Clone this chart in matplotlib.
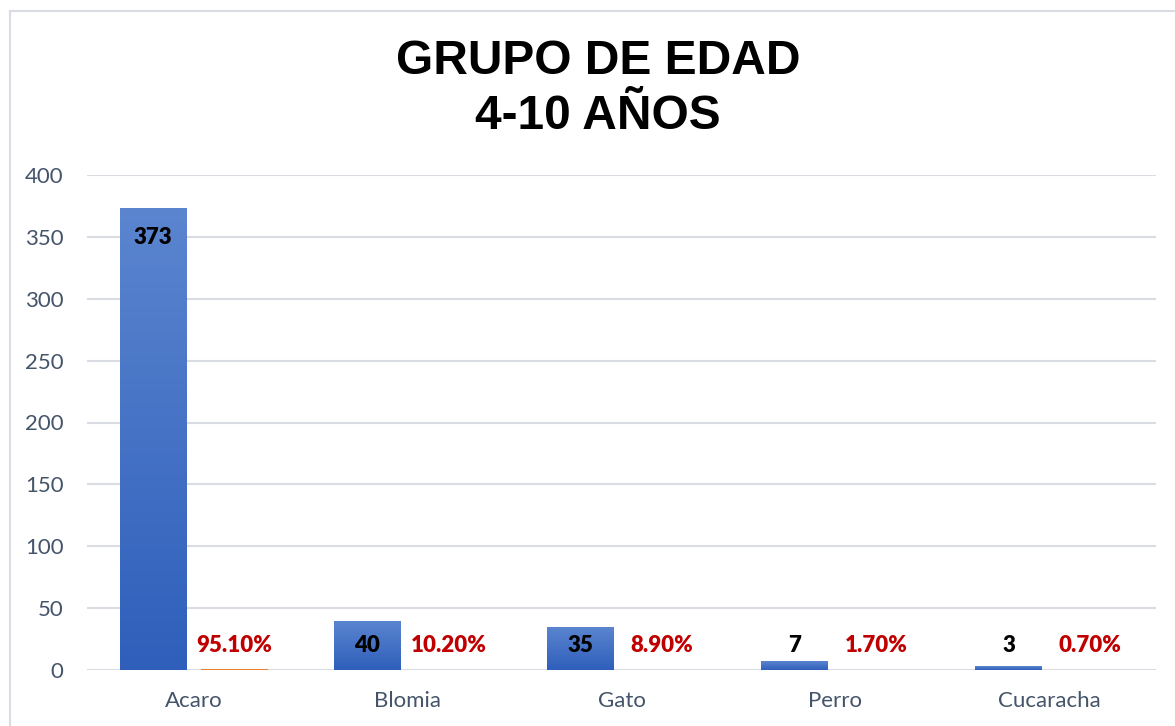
import numpy as np
import matplotlib.pyplot as plt
from matplotlib.colors import LinearSegmentedColormap
from matplotlib.lines import Line2D

# -------- DATA --------
categories = ["Acaro", "Blomia", "Gato", "Perro", "Cucaracha"]
counts = [373, 40, 35, 7, 3]
percents = [0.951, 0.102, 0.089, 0.017, 0.007]
y_ticks = [0, 50, 100, 150, 200, 250, 300, 350, 400]
title = "GRUPO DE EDAD\n4-10 AÑOS"
# ----------------------

BAR_W = 0.313
OFFSET = 0.19
TICK_COLOR = "#44546a"
GRID_COLOR = "#d9dde3"
grad = LinearSegmentedColormap.from_list("blue_grad", ["#2f5fbb", "#5b85cf"])

fig = plt.figure(figsize=(11.75, 7.26), dpi=100)
ax = fig.add_axes([87 / 1175, 1 - 670 / 726, (1156 - 87) / 1175, (670 - 175) / 726])

x = np.arange(len(categories))

# main series with vertical gradient
bars = ax.bar(x - OFFSET, counts, width=BAR_W, color="none", zorder=3)
for b in bars:
    x0, y0 = b.get_x(), b.get_y()
    w, h = b.get_width(), b.get_height()
    img = ax.imshow(np.linspace(0, 1, 256).reshape(-1, 1), cmap=grad, aspect="auto",
                    origin="lower", extent=[x0, x0 + w, y0, y0 + h], zorder=3)
    img.set_clip_path(b)

# percentage series (tiny bars)
ax.bar(x + OFFSET, percents, width=BAR_W, color="#ed7d31", zorder=3)

ax.set_xlim(-0.5, len(categories) - 0.5)
ax.set_ylim(0, 400)

label_font = dict(fontfamily="Lato", fontsize=16, fontweight="heavy")
for i, (c, p) in enumerate(zip(counts, percents)):
    ly = max(c - 23.5, 20)
    ax.text(x[i] - OFFSET, ly, str(c), ha="center", va="center", color="black", zorder=5, **label_font)
    ax.text(x[i] + OFFSET, 20, f"{p * 100:.2f}%", ha="center", va="center",
            color="#c00000", zorder=5, **label_font)

ax.set_xticks(x)
ax.set_xticklabels(categories)
ax.set_yticks(y_ticks)
for lab in ax.get_xticklabels() + ax.get_yticklabels():
    lab.set_fontfamily("Lato")
    lab.set_fontsize(16)
    lab.set_color(TICK_COLOR)
ax.tick_params(axis="y", length=0, pad=17)
ax.tick_params(axis="x", length=0, pad=15)
ax.grid(axis="y", color=GRID_COLOR, linewidth=1.5, zorder=0)
for s in ax.spines.values():
    s.set_visible(False)
ax.set_facecolor("none")

fig.text(0.509, 1 - 89 / 726, title, ha="center", va="center", fontfamily="Liberation Sans",
         fontweight="bold", fontsize=34.5, linespacing=1.3)

# outer chart border
fig.add_artist(Line2D([10 / 1175, 10 / 1175], [0, 1 - 11 / 726], color=GRID_COLOR, linewidth=1.5))
fig.add_artist(Line2D([10 / 1175, 1], [1 - 11 / 726, 1 - 11 / 726], color=GRID_COLOR, linewidth=1.5))

fig.savefig("out.png", dpi=100)
plt.close(fig)
